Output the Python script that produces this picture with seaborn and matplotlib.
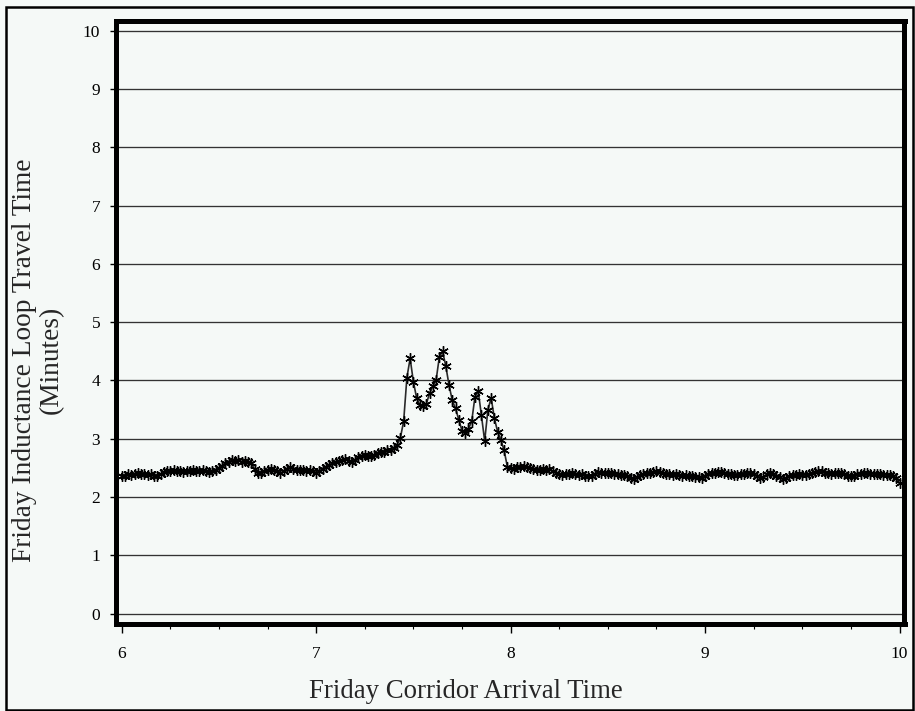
import numpy as np
import pandas as pd
import matplotlib
matplotlib.use("Agg")
import matplotlib.pyplot as plt
from matplotlib.patches import Rectangle
from matplotlib.ticker import MultipleLocator
import seaborn as sns

# ---- data (1-minute samples, 6:00 -> 10:00) ----
minutes = list(range(0, 241))
travel_time = [
    2.37, 2.36, 2.39, 2.38, 2.40, 2.41, 2.39, 2.40, 2.38, 2.39,
    2.37, 2.36, 2.39, 2.43, 2.45, 2.44, 2.46, 2.45, 2.44, 2.43,
    2.45, 2.44, 2.46, 2.45, 2.44, 2.46, 2.45, 2.43, 2.44, 2.47,
    2.50, 2.54, 2.58, 2.61, 2.63, 2.62, 2.63, 2.61, 2.62, 2.61,
    2.58, 2.48, 2.42, 2.41, 2.44, 2.46, 2.48, 2.47, 2.45, 2.42,
    2.44, 2.49, 2.52, 2.49, 2.47, 2.46, 2.47, 2.45, 2.46, 2.44,
    2.42, 2.45, 2.49, 2.52, 2.55, 2.58, 2.60, 2.62, 2.64, 2.65,
    2.62, 2.60, 2.64, 2.69, 2.71, 2.72, 2.70, 2.70, 2.72, 2.76,
    2.78, 2.77, 2.81, 2.80, 2.84, 2.90, 3.02, 3.30, 4.05, 4.38,
    3.98, 3.70, 3.58, 3.57, 3.60, 3.78, 3.90, 4.00, 4.40, 4.50,
    4.25, 3.92, 3.66, 3.52, 3.33, 3.14, 3.10, 3.17, 3.30, 3.72,
    3.82, 3.40, 2.96, 3.50, 3.70, 3.35, 3.12, 2.98, 2.80, 2.52,
    2.50, 2.49, 2.51, 2.52, 2.54, 2.52, 2.50, 2.48, 2.46, 2.47,
    2.48, 2.47, 2.48, 2.45, 2.42, 2.40, 2.38, 2.39, 2.40, 2.41,
    2.40, 2.38, 2.39, 2.37, 2.36, 2.37, 2.40, 2.43, 2.42, 2.41,
    2.42, 2.41, 2.40, 2.39, 2.38, 2.38, 2.36, 2.33, 2.31, 2.34,
    2.38, 2.40, 2.41, 2.42, 2.43, 2.44, 2.43, 2.41, 2.40, 2.39,
    2.38, 2.39, 2.38, 2.37, 2.38, 2.37, 2.36, 2.35, 2.34, 2.33,
    2.37, 2.40, 2.41, 2.42, 2.43, 2.43, 2.42, 2.40, 2.39, 2.38,
    2.38, 2.39, 2.40, 2.41, 2.41, 2.40, 2.37, 2.33, 2.35, 2.39,
    2.41, 2.40, 2.37, 2.34, 2.31, 2.33, 2.36, 2.38, 2.38, 2.39,
    2.38, 2.38, 2.39, 2.41, 2.43, 2.44, 2.44, 2.42, 2.41, 2.40,
    2.41, 2.42, 2.41, 2.39, 2.37, 2.36, 2.37, 2.39, 2.40, 2.41,
    2.41, 2.40, 2.40, 2.39, 2.39, 2.38, 2.38, 2.38, 2.36, 2.33,
    2.24,
]
x_ticks = [6, 7, 8, 9, 10]
y_ticks = [0, 1, 2, 3, 4, 5, 6, 7, 8, 9, 10]
x_label = "Friday Corridor Arrival Time"
y_label = "Friday Inductance Loop Travel Time\n(Minutes)"

arrival_hour = [6 + m / 60.0 for m in minutes]
df = pd.DataFrame({"arrival": arrival_hour, "travel": travel_time})

# ---- style ----
sns.set_style("ticks")
BG = "#f5f9f7"
plt.rcParams["font.family"] = ["Liberation Serif", "DejaVu Serif"]

W, H = 915, 711
fig = plt.figure(figsize=(W / 100, H / 100), dpi=100, facecolor=BG)
ax = fig.add_axes([116 / W, 1 - 624 / H, (904.5 - 116) / W, (624 - 20.5) / H])
ax.set_facecolor(BG)

# grid lines
for yv in y_ticks:
    ax.axhline(yv, color="#333333", lw=0.95, zorder=1)

sns.lineplot(data=df, x="arrival", y="travel", ax=ax, color="#2a2a2a",
             lw=1.2, marker=(6, 2, 0), markersize=7.5, markeredgewidth=1.0,
             markeredgecolor="black", markerfacecolor="black", zorder=3,
             estimator=None)

ax.set_xlim(5.9707, 10.0257)
ax.set_ylim(-0.177, 10.175)
ax.set_xticks(x_ticks)
ax.set_xticklabels([str(v) for v in x_ticks])
ax.xaxis.set_minor_locator(MultipleLocator(0.25))
ax.set_yticks(y_ticks)
ax.set_yticklabels([str(v) for v in y_ticks])

for s in ax.spines.values():
    s.set_visible(True)
    s.set_linewidth(3.6)
    s.set_color("black")
    s.set_zorder(5)

ax.tick_params(axis="x", which="major", direction="out", length=6.5, width=1.0,
               pad=9, labelsize=12.5, colors="black")
ax.tick_params(axis="x", which="minor", direction="out", length=3.8, width=0.8,
               colors="black")
ax.tick_params(axis="y", which="major", direction="out", length=4.3, width=1.0,
               pad=7, labelsize=12.5, colors="black")
ax.set_xlabel("")
ax.set_ylabel("")

fig.text(466 / W, 1 - 692 / H, x_label, ha="center", va="center", fontsize=19.3)
fig.text(38 / W, 1 - 360 / H, y_label, ha="center", va="center", rotation=90,
         fontsize=19.7, multialignment="center", linespacing=1.1)

# outer frame
fig.patches.append(Rectangle((6 / W, 1 - 710 / H), (913 - 6) / W, (710 - 7) / H,
                             transform=fig.transFigure, fill=False,
                             edgecolor="black", lw=1.8, zorder=10))

fig.savefig("out.png", dpi=100, facecolor=BG)
